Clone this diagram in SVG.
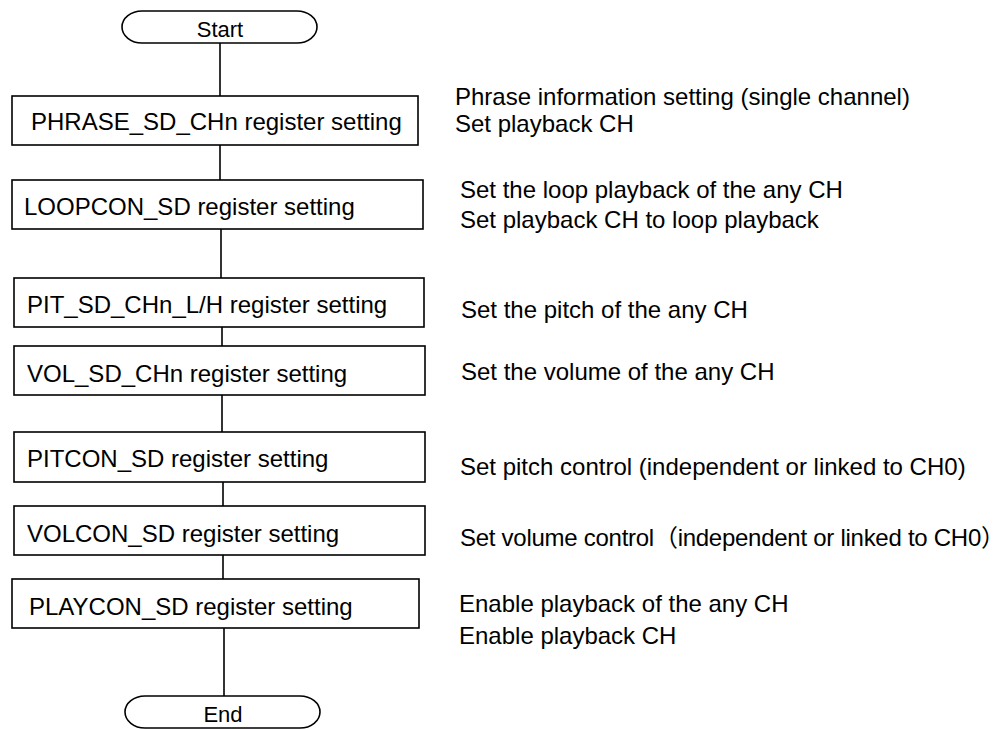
<svg xmlns="http://www.w3.org/2000/svg" width="1007" height="729" viewBox="0 0 1007 729">
<style>
.box{fill:#fff;stroke:#000;stroke-width:1.6}
.t{font-family:"Liberation Sans",Arial,sans-serif;font-size:24px;fill:#000}
.r{font-family:"Liberation Sans",Arial,"Noto Sans CJK JP",sans-serif;font-size:24px;fill:#000}
.c{stroke:#000;stroke-width:1.6;fill:none}
</style>
<rect width="1007" height="729" fill="#fff"/>
<g id="connectors">
<line class="c" x1="220" y1="43" x2="220" y2="96"/>
<line class="c" x1="220" y1="145" x2="220" y2="180"/>
<line class="c" x1="221" y1="229" x2="221" y2="278"/>
<line class="c" x1="222" y1="327" x2="222" y2="346"/>
<line class="c" x1="222" y1="395" x2="222" y2="432"/>
<line class="c" x1="223" y1="482" x2="223" y2="506"/>
<line class="c" x1="223" y1="555" x2="223" y2="579"/>
<line class="c" x1="224" y1="628" x2="224" y2="696"/>
</g>
<g id="start">
<rect class="box" x="122" y="11" width="195" height="32" rx="20" ry="16"/>
<text class="t" x="220" y="37" text-anchor="middle" style="font-size:22px">Start</text>
</g>
<g id="phrase">
<rect class="box" x="12" y="96" width="406" height="49"/>
<text class="t" x="31" y="130">PHRASE_SD_CHn register setting</text>
</g>
<g id="loopcon">
<rect class="box" x="12" y="180" width="411" height="49"/>
<text class="t" x="24" y="215">LOOPCON_SD register setting</text>
</g>
<g id="pit">
<rect class="box" x="14" y="278" width="410" height="49"/>
<text class="t" x="27" y="313">PIT_SD_CHn_L/H register setting</text>
</g>
<g id="vol">
<rect class="box" x="14" y="346" width="411" height="49"/>
<text class="t" x="27" y="382">VOL_SD_CHn register setting</text>
</g>
<g id="pitcon">
<rect class="box" x="14" y="432" width="411" height="50"/>
<text class="t" x="27" y="467">PITCON_SD register setting</text>
</g>
<g id="volcon">
<rect class="box" x="14" y="506" width="411" height="49"/>
<text class="t" x="27" y="542">VOLCON_SD register setting</text>
</g>
<g id="playcon">
<rect class="box" x="12" y="579" width="407" height="49"/>
<text class="t" x="29" y="615">PLAYCON_SD register setting</text>
</g>
<g id="end">
<rect class="box" x="125" y="696" width="195" height="32" rx="20" ry="16"/>
<text class="t" x="223" y="722" text-anchor="middle" style="font-size:22px">End</text>
</g>
<g id="notes">
<text class="r" x="455" y="105">Phrase information setting (single channel)</text>
<text class="r" x="455" y="132">Set playback CH</text>
<text class="r" x="460" y="198">Set the loop playback of the any CH</text>
<text class="r" x="460" y="228">Set playback CH to loop playback</text>
<text class="r" x="461" y="318">Set the pitch of the any CH</text>
<text class="r" x="461" y="380">Set the volume of the any CH</text>
<text class="r" x="460" y="475">Set pitch control (independent or linked to CH0)</text>
<text class="r" x="460" y="546" textLength="545" lengthAdjust="spacing">Set volume control（independent or linked to CH0）</text>
<text class="r" x="459" y="612">Enable playback of the any CH</text>
<text class="r" x="459" y="644">Enable playback CH</text>
</g>
</svg>
